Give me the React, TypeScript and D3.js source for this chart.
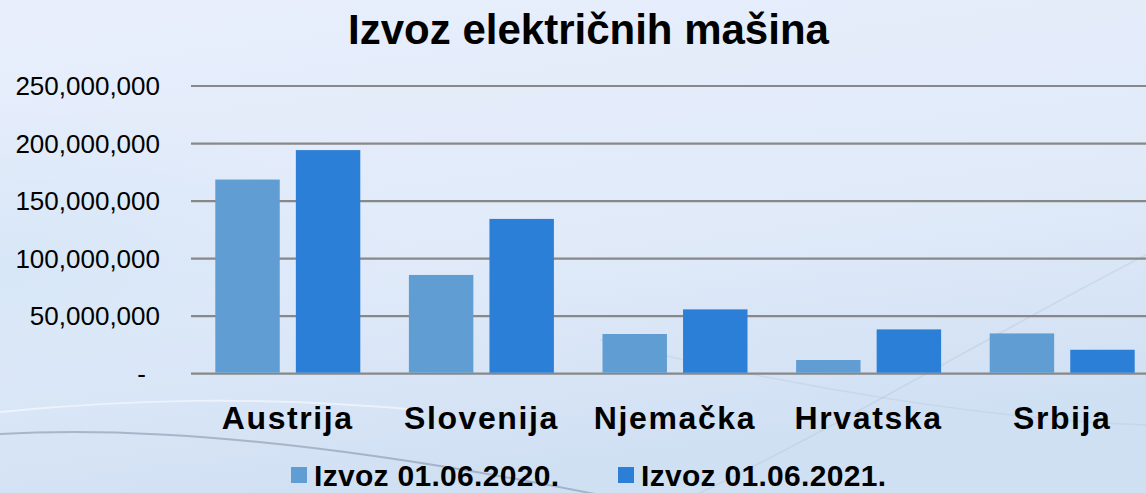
import React from "react";
import * as d3 from "d3";

const categories = ["Austrija", "Slovenija", "Njemačka", "Hrvatska", "Srbija"];
const seriesNames = ["Izvoz 01.06.2020.", "Izvoz 01.06.2021."];
const values2020 = [168700000, 85800000, 34500000, 11900000, 35000000];
const values2021 = [194300000, 134500000, 55900000, 38500000, 20800000];
const yTicks = [0, 50000000, 100000000, 150000000, 200000000, 250000000];
const title = "Izvoz električnih mašina";
const colors = ["#609dd2", "#2b7fd7"];

const W = 1146;
const H = 493;
const FONT = "'Liberation Sans', Arial, sans-serif";

export default function App() {
  const x = d3.scaleBand<string>().domain(categories).range([191, 1159]).padding(0);
  const inner = d3
    .scaleBand<string>()
    .domain(seriesNames)
    .range([24.3, x.bandwidth() - 24.3])
    .paddingInner(0.2)
    .paddingOuter(0);
  const y = d3.scaleLinear().domain([0, 250000000]).range([373.7, 86]);
  const fmt = d3.format(",");
  const series = [values2020, values2021];

  return (
    <svg
      width={W}
      height={H}
      style={{ position: "absolute", left: 0, top: 0, display: "block" }}
    >
      <defs>
        <linearGradient id="bg" x1="0" y1="0" x2="0.3" y2="1">
          <stop offset="0" stopColor="#e8eefc" />
          <stop offset="0.6" stopColor="#e0eaf9" />
          <stop offset="1" stopColor="#d0e0f3" />
        </linearGradient>
        <radialGradient id="glowL" cx="0" cy="0.55" r="0.35">
          <stop offset="0" stopColor="#d6e6f7" stopOpacity="0.9" />
          <stop offset="1" stopColor="#d6e6f7" stopOpacity="0" />
        </radialGradient>
      </defs>
      <rect x={0} y={0} width={W} height={H} fill="url(#bg)" />
      <rect x={0} y={0} width={W} height={H} fill="url(#glowL)" />
      {/* decorative swooshes */}
      <path d="M0,434 C150,425 350,445 600,495" fill="none" stroke="#7d8fa8" strokeOpacity={0.55} strokeWidth={2} />
      <path d="M0,412 C120,400 250,395 420,410" fill="none" stroke="#ffffff" strokeOpacity={0.5} strokeWidth={2} />
      <path d="M700,493 C850,420 1000,330 1146,255" fill="none" stroke="#9fb4cc" strokeOpacity={0.25} strokeWidth={1.5} />
      <path d="M600,340 C800,390 1000,420 1146,425" fill="none" stroke="#a9bdd4" strokeOpacity={0.25} strokeWidth={1.5} />

      <text
        x={588.5}
        y={43.5}
        textAnchor="middle"
        fontFamily={FONT}
        fontWeight="bold"
        fontSize={42}
        fill="#000"
      >
        {title}
      </text>

      {yTicks.map((t) => (
        <g key={t}>
          <line x1={191} x2={W} y1={y(t)} y2={y(t)} stroke="#888888" strokeWidth={2.2} />
          <text
            x={t === 0 ? 146 : 160}
            y={y(t)}
            dy="0.35em"
            textAnchor="end"
            fontFamily={FONT}
            fontSize={26}
            fill="#000"
          >
            {t === 0 ? "-" : fmt(t)}
          </text>
        </g>
      ))}

      {categories.map((c, i) => (
        <g key={c} transform={`translate(${x(c)},0)`}>
          {series.map((vals, s) => (
            <rect
              key={s}
              x={inner(seriesNames[s])}
              width={inner.bandwidth()}
              y={y(vals[i])}
              height={y(0) - y(vals[i]) - 1}
              fill={colors[s]}
            />
          ))}
          <text
            x={x.bandwidth() / 2}
            y={429}
            textAnchor="middle"
            fontFamily={FONT}
            fontWeight="bold"
            fontSize={32}
            letterSpacing={1.6}
            fill="#000"
          >
            {c}
          </text>
        </g>
      ))}

      {/* legend */}
      {seriesNames.map((name, s) => {
        const lx = s === 0 ? 291 : 618;
        return (
          <g key={name}>
            <rect x={lx} y={467} width={16} height={16} fill={colors[s]} />
            <text
              x={lx + 23}
              y={486}
              fontFamily={FONT}
              fontWeight="bold"
              fontSize={30}
              letterSpacing={0.3}
              fill="#000"
            >
              {name}
            </text>
          </g>
        );
      })}
    </svg>
  );
}
